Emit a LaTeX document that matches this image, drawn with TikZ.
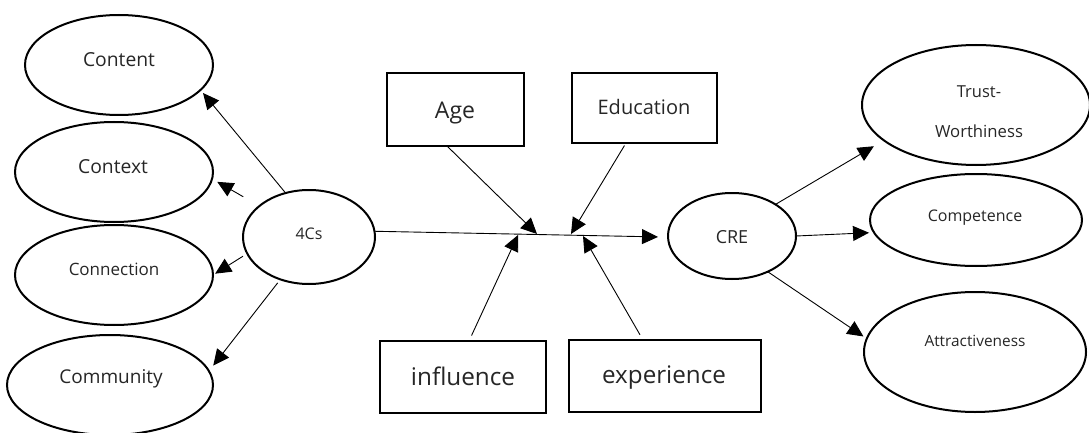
\documentclass[tikz,border=0pt]{standalone}
\usepackage{fontspec}
\setmainfont{Open Sans}
\usetikzlibrary{shapes.geometric,arrows.meta}
\newcommand{\fsz}[1]{\fontsize{#1}{#1}\selectfont}
\begin{document}
\begin{tikzpicture}[x=1pt,y=-1pt,
  ell/.style={draw, ellipse, line width=2pt, inner sep=0pt, outer sep=0pt},
  box/.style={draw, rectangle, line width=2.2pt, inner sep=0pt, outer sep=0pt},
  txt/.style={inner sep=0pt, anchor=base, text=black!85},
  arr/.style={-{Triangle[length=16pt,width=15pt]}, line width=0.9pt}]
\useasboundingbox (0,0) rectangle (1089,433);

% 4Cs and its components
\node[ell, minimum width=188pt, minimum height=100pt] (content) at (119,65) {};
\node[ell, minimum width=198pt, minimum height=100pt] (context) at (114,172) {};
\node[ell, minimum width=198pt, minimum height=100pt] (connection) at (114,275) {};
\node[ell, minimum width=206pt, minimum height=100pt] (community) at (110,385) {};
\node[ell, minimum width=132pt, minimum height=94pt] (fourcs) at (309,237) {};

\node[txt, font=\fsz{19.3}] (contentL) at (119,67) {Content};
\node[txt, font=\fsz{19.3}] (contextL) at (113,173) {Context};
\node[txt, font=\fsz{17}] (connectionL) at (114,275) {Connection};
\node[txt, font=\fsz{19}] (communityL) at (111,383) {Community};
\node[txt, font=\fsz{16}] (fourcsL) at (309,239) {4Cs};

% moderating factors
\node[box, minimum width=137pt, minimum height=73pt] (age) at (455.5,109.5) {};
\node[box, minimum width=145pt, minimum height=70pt] (education) at (644.5,108) {};
\node[box, minimum width=166pt, minimum height=72pt] (influence) at (463,377) {};
\node[box, minimum width=192pt, minimum height=72pt] (experience) at (665,376) {};

\node[txt, font=\fsz{23}] (ageL) at (455,118) {Age};
\node[txt, font=\fsz{20}] (educationL) at (644,115) {Education};
\node[txt, font=\fsz{24.3}] (influenceL) at (463,385) {influence};
\node[txt, font=\fsz{24.2}] (experienceL) at (664,383) {experience};

% CRE and its dimensions
\node[ell, minimum width=128pt, minimum height=86pt] (cre) at (732,236) {};
\node[ell, minimum width=228pt, minimum height=120pt] (trust) at (976,105) {};
\node[ell, minimum width=212pt, minimum height=92pt] (competence) at (976,220) {};
\node[ell, minimum width=222pt, minimum height=120pt] (attract) at (975,352) {};

\node[txt, font=\fsz{18}] (creL) at (732,243) {CRE};
\node[txt, font=\fsz{16.5}] (trustL) at (979,98) {Trust-};
\node[txt, font=\fsz{16.7}] (trustM) at (979,137) {Worthiness};
\node[txt, font=\fsz{16}] (competenceL) at (975,221) {Competence};
\node[txt, font=\fsz{15.4}] (attractL) at (975,346) {Attractiveness};

% points where the moderators meet the main path
\coordinate (jInf) at (518,235);
\coordinate (jAge) at (537,234);
\coordinate (jEdu) at (571,234);
\coordinate (jExp) at (583,236);

% 4Cs to its components
\draw[arr, shorten >=4pt] (fourcs.118) -- (content.-17);
\draw[arr, shorten <=18.6pt, shorten >=6pt] (fourcs.148) -- (context.-4.7);
\draw[arr, shorten <=5pt, shorten >=2.5pt] (fourcs.195) -- (connection.0.4);
\draw[arr, shorten <=4.5pt, shorten >=7pt] (fourcs.236.4) -- (community.8.4);

% main path
\draw[arr, shorten >=10pt] (fourcs.5) -- (cre.181);

% moderators
\draw[arr, shorten <=1pt] ([xshift=-8.5pt]age.south) -- (jAge);
\draw[arr, shorten <=3pt] ([xshift=-18.5pt]education.south) -- (jEdu);
\draw[arr, shorten <=6pt] ([xshift=6pt]influence.north) -- (jInf);
\draw[arr, shorten <=6pt] ([xshift=-22pt]experience.north) -- (jExp);

% CRE to its dimensions
\draw[arr, shorten >=11.6pt] (cre.36.3) -- (trust.201.7);
\draw[arr, shorten >=5pt] (cre.0.9) -- (competence.187.9);
\draw[arr, shorten >=4pt] (cre.-45.8) -- (attract.173.8);
\end{tikzpicture}
\end{document}
